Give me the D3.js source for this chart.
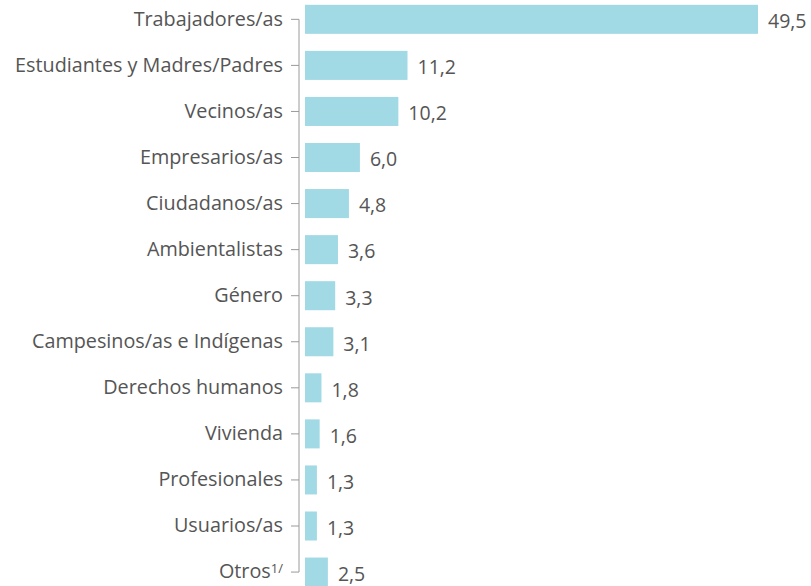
<!DOCTYPE html>
<html>
<head>
<meta charset="utf-8">
<script src="https://cdn.jsdelivr.net/npm/d3@7"></script>
<style>
  body { margin: 0; background: #fff; }
  svg text { font-family: "Open Sans", "Noto Sans", sans-serif; fill: #555; }
</style>
</head>
<body>
<svg id="chart" width="811" height="586"></svg>
<script>
const categories = [
  "Trabajadores/as", "Estudiantes y Madres/Padres", "Vecinos/as", "Empresarios/as",
  "Ciudadanos/as", "Ambientalistas", "Género", "Campesinos/as e Indígenas",
  "Derechos humanos", "Vivienda", "Profesionales", "Usuarios/as", "Otros"
];
const values = [49.5, 11.2, 10.2, 6.0, 4.8, 3.6, 3.3, 3.1, 1.8, 1.6, 1.3, 1.3, 2.5];

const svg = d3.select('#chart');

let data = categories.map(function(c, i) { return {cat: c, value: values[i]}; });

let x = d3.scaleLinear().domain([0, 49.5]).range([305, 758]);

let y = d3.scaleBand().domain(categories)
    .range([-3.7, 595.1])
    .paddingInner(0.37).paddingOuter(0.185);

let fmt = function(v) { return v.toFixed(1).replace('.', ','); };

let yAxis = d3.axisLeft(y).tickSize(8).tickPadding(8);

let ax = svg.append('g')
    .attr('transform', 'translate(299,0)')
    .call(yAxis);
ax.select('.domain').remove();
ax.selectAll('.tick line').attr('stroke', '#9a9a9a');
ax.selectAll('.tick text')
    .style('font-size', '19.8px')
    .attr('fill', '#555');

// superscript on Otros
ax.selectAll('.tick text').filter(function(d) { return d === 'Otros'; })
    .text('Otros')
    .append('tspan')
    .attr('dy', '-0.4em')
    .style('font-size', '13px')
    .text('1/');

ax.append('line')
    .attr('x1', 0).attr('x2', 0)
    .attr('y1', y(categories[0]) + y.bandwidth() / 2)
    .attr('y2', y(categories[categories.length - 1]) + y.bandwidth() / 2)
    .attr('stroke', '#9a9a9a');

svg.selectAll('.bar')
    .data(data)
    .enter().append('rect')
    .attr('class', 'bar')
    .attr('x', x(0))
    .attr('y', function(d) { return y(d.cat); })
    .attr('width', function(d) { return x(d.value) - x(0); })
    .attr('height', y.bandwidth())
    .attr('fill', '#a1d9e5');

svg.selectAll('.val')
    .data(data)
    .enter().append('text')
    .attr('class', 'val')
    .attr('x', function(d) { return x(d.value) + 10; })
    .attr('y', function(d) { return y(d.cat) + y.bandwidth() / 2 + 2; })
    .attr('dy', '0.35em')
    .style('font-size', '19.5px')
    .text(function(d) { return fmt(d.value); });
</script>
</body>
</html>
